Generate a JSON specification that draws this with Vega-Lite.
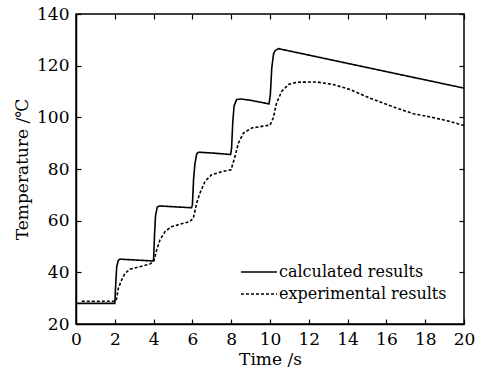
{
  "$schema": "https://vega.github.io/schema/vega-lite/v6.json",
  "autosize": "none",
  "width": 388,
  "height": 310,
  "padding": {"left": 76, "top": 14, "right": 25, "bottom": 47},
  "background": "white",
  "config": {
    "font": "DejaVu Serif",
    "view": {"stroke": "black", "strokeWidth": 1.5},
    "axis": {
      "grid": false,
      "domainColor": "black",
      "domainWidth": 1.5,
      "tickColor": "black",
      "tickWidth": 1.2,
      "tickSize": -5,
      "labelColor": "black",
      "labelFont": "DejaVu Serif",
      "labelFontSize": 17,
      "titleFont": "DejaVu Serif",
      "titleFontSize": 17,
      "titleFontWeight": "normal",
      "titleColor": "black"
    },
    "legend": {
      "labelFont": "DejaVu Serif",
      "labelFontSize": 16,
      "labelColor": "black",
      "labelLimit": 400
    }
  },
  "datasets": {
    "temps": [
      {"t": 0, "T": 28, "series": "calculated results"},
      {"t": 2.0, "T": 28, "series": "calculated results"},
      {"t": 2.04, "T": 34.5, "series": "calculated results"},
      {"t": 2.1, "T": 42.2, "series": "calculated results"},
      {"t": 2.18, "T": 44.6, "series": "calculated results"},
      {"t": 2.27, "T": 45.1, "series": "calculated results"},
      {"t": 3.0, "T": 44.8, "series": "calculated results"},
      {"t": 3.95, "T": 44.4, "series": "calculated results"},
      {"t": 4.0, "T": 45, "series": "calculated results"},
      {"t": 4.05, "T": 55, "series": "calculated results"},
      {"t": 4.1, "T": 62, "series": "calculated results"},
      {"t": 4.19, "T": 65.3, "series": "calculated results"},
      {"t": 4.3, "T": 65.7, "series": "calculated results"},
      {"t": 5.0, "T": 65.4, "series": "calculated results"},
      {"t": 5.95, "T": 65.0, "series": "calculated results"},
      {"t": 6.0, "T": 66, "series": "calculated results"},
      {"t": 6.06, "T": 76, "series": "calculated results"},
      {"t": 6.13, "T": 82, "series": "calculated results"},
      {"t": 6.22, "T": 85.8, "series": "calculated results"},
      {"t": 6.31, "T": 86.5, "series": "calculated results"},
      {"t": 7.0, "T": 86.2, "series": "calculated results"},
      {"t": 7.97, "T": 85.6, "series": "calculated results"},
      {"t": 8.02, "T": 88, "series": "calculated results"},
      {"t": 8.08, "T": 98, "series": "calculated results"},
      {"t": 8.15, "T": 104.5, "series": "calculated results"},
      {"t": 8.28, "T": 106.9, "series": "calculated results"},
      {"t": 8.5, "T": 107.1, "series": "calculated results"},
      {"t": 9.0, "T": 106.6, "series": "calculated results"},
      {"t": 9.95, "T": 105.2, "series": "calculated results"},
      {"t": 10.02, "T": 109, "series": "calculated results"},
      {"t": 10.09, "T": 119, "series": "calculated results"},
      {"t": 10.18, "T": 124.5, "series": "calculated results"},
      {"t": 10.26, "T": 125.8, "series": "calculated results"},
      {"t": 10.43, "T": 126.6, "series": "calculated results"},
      {"t": 20, "T": 111.3, "series": "calculated results"},
      {"t": 0.3, "T": 28.8, "series": "experimental results"},
      {"t": 2.05, "T": 28.8, "series": "experimental results"},
      {"t": 2.1, "T": 30, "series": "experimental results"},
      {"t": 2.18, "T": 33.8, "series": "experimental results"},
      {"t": 2.35, "T": 37, "series": "experimental results"},
      {"t": 2.53, "T": 39.7, "series": "experimental results"},
      {"t": 2.78, "T": 41.2, "series": "experimental results"},
      {"t": 3.3, "T": 42.2, "series": "experimental results"},
      {"t": 3.81, "T": 43.2, "series": "experimental results"},
      {"t": 4.02, "T": 44.5, "series": "experimental results"},
      {"t": 4.16, "T": 48.7, "series": "experimental results"},
      {"t": 4.33, "T": 52.6, "series": "experimental results"},
      {"t": 4.59, "T": 55.8, "series": "experimental results"},
      {"t": 4.93, "T": 57.7, "series": "experimental results"},
      {"t": 5.45, "T": 58.8, "series": "experimental results"},
      {"t": 5.88, "T": 59.7, "series": "experimental results"},
      {"t": 6.05, "T": 61, "series": "experimental results"},
      {"t": 6.22, "T": 66.8, "series": "experimental results"},
      {"t": 6.39, "T": 70.7, "series": "experimental results"},
      {"t": 6.65, "T": 75.2, "series": "experimental results"},
      {"t": 6.99, "T": 77.8, "series": "experimental results"},
      {"t": 7.59, "T": 79.1, "series": "experimental results"},
      {"t": 7.99, "T": 79.7, "series": "experimental results"},
      {"t": 8.2, "T": 84.9, "series": "experimental results"},
      {"t": 8.37, "T": 90, "series": "experimental results"},
      {"t": 8.63, "T": 93.9, "series": "experimental results"},
      {"t": 9.06, "T": 95.9, "series": "experimental results"},
      {"t": 9.5, "T": 96.4, "series": "experimental results"},
      {"t": 10.0, "T": 97.0, "series": "experimental results"},
      {"t": 10.17, "T": 99.8, "series": "experimental results"},
      {"t": 10.34, "T": 105.6, "series": "experimental results"},
      {"t": 10.6, "T": 110, "series": "experimental results"},
      {"t": 10.95, "T": 112.7, "series": "experimental results"},
      {"t": 11.37, "T": 113.6, "series": "experimental results"},
      {"t": 12.4, "T": 113.7, "series": "experimental results"},
      {"t": 13.26, "T": 112.7, "series": "experimental results"},
      {"t": 14.12, "T": 110.8, "series": "experimental results"},
      {"t": 15.1, "T": 107.6, "series": "experimental results"},
      {"t": 16.36, "T": 104, "series": "experimental results"},
      {"t": 17.39, "T": 101.4, "series": "experimental results"},
      {"t": 18.42, "T": 99.9, "series": "experimental results"},
      {"t": 19.28, "T": 98.4, "series": "experimental results"},
      {"t": 20, "T": 96.8, "series": "experimental results"}
    ]
  },
  "data": {"name": "temps"},
  "resolve": {"axis": {"x": "independent", "y": "independent"}},
  "layer": [
    {
      "mark": {"type": "line", "color": "black", "strokeWidth": 1.6, "clip": true},
      "encoding": {
        "x": {
          "field": "t", "type": "quantitative",
          "scale": {"domain": [0, 20], "nice": false, "zero": false},
          "axis": {"orient": "bottom", "values": [0,2,4,6,8,10,12,14,16,18,20], "title": "Time /s", "labelPadding": 12, "titlePadding": 4, "labelFlush": false}
        },
        "y": {
          "field": "T", "type": "quantitative",
          "scale": {"domain": [20, 140], "nice": false, "zero": false},
          "axis": {"orient": "left", "values": [20,40,60,80,100,120,140], "title": "Temperature /℃", "labelPadding": 12, "titlePadding": 5}
        },
        "detail": {"field": "series"},
        "strokeDash": {
          "field": "series", "type": "nominal",
          "scale": {"domain": ["calculated results", "experimental results"], "range": [[1, 0], [3, 2]]},
          "legend": {
            "title": null,
            "orient": "none",
            "legendX": 163,
            "legendY": 250,
            "symbolType": "M-1,0H5",
            "symbolSize": 144,
            "symbolStrokeWidth": 1.6,
            "symbolStrokeColor": "black",
            "symbolFillColor": "transparent",
            "rowPadding": 6,
            "labelOffset": 24
          }
        }
      }
    },
    {
      "mark": {"type": "point", "opacity": 0},
      "encoding": {
        "x": {
          "field": "t", "type": "quantitative",
          "axis": {"orient": "top", "values": [0,2,4,6,8,10,12,14,16,18,20], "labels": false, "title": null, "domain": false}
        },
        "y": {
          "field": "T", "type": "quantitative",
          "axis": {"orient": "right", "values": [20,40,60,80,100,120,140], "labels": false, "title": null, "domain": false}
        }
      }
    }
  ]
}
